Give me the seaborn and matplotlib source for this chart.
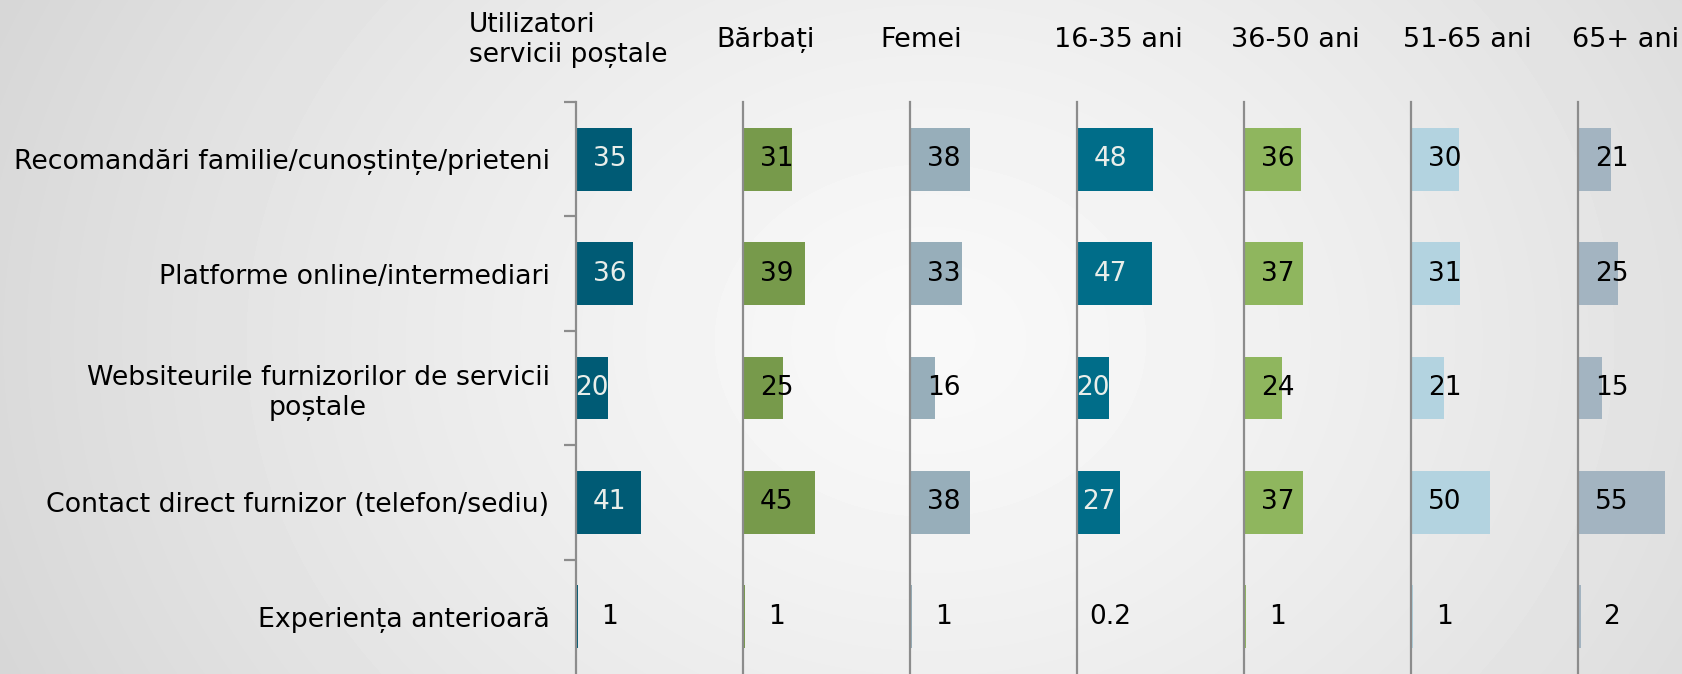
import numpy as np
import pandas as pd
import matplotlib
matplotlib.use("Agg")
import matplotlib.pyplot as plt
import seaborn as sns

# ---- data -------------------------------------------------------------
categories = [
    "Recomandări familie/cunoștințe/prieteni",
    "Platforme online/intermediari",
    "Websiteurile furnizorilor de servicii\npoștale",
    "Contact direct furnizor (telefon/sediu)",
    "Experiența anterioară",
]
groups = ["Utilizatori\nservicii poștale", "Bărbați", "Femei",
          "16-35 ani", "36-50 ani", "51-65 ani", "65+ ani"]

utilizatori = [35, 36, 20, 41, 1]
barbati = [31, 39, 25, 45, 1]
femei = [38, 33, 16, 38, 1]
ani_16_35 = [48, 47, 20, 27, 0.2]
ani_36_50 = [36, 37, 24, 37, 1]
ani_51_65 = [30, 31, 21, 50, 1]
ani_65_plus = [21, 25, 15, 55, 2]

series = [utilizatori, barbati, femei, ani_16_35, ani_36_50, ani_51_65, ani_65_plus]
colors = ["#005B75", "#779A4B", "#97AEBA", "#006D89", "#8FB65E", "#B3D3E0", "#A3B4C1"]
dark_panel = [True, False, False, True, False, False, False]

df = pd.DataFrame(
    [(g, c, v) for g, vals in zip(groups, series) for c, v in zip(categories, vals)],
    columns=["grup", "sursa", "procent"],
)

# ---- figure -----------------------------------------------------------
sns.set_theme(style="white")
plt.rcParams["font.family"] = ["DejaVu Sans"]

W, H = 1683, 674
fig = plt.figure(figsize=(W / 100, H / 100), dpi=100)

# soft radial background
bg = fig.add_axes([0, 0, 1, 1], zorder=-10)
yy, xx = np.mgrid[0:H, 0:W]
r = np.sqrt(((xx - 930) / 930.0) ** 2 + ((yy - 340) / 760.0) ** 2)
shade = np.clip(0.975 - 0.12 * r ** 1.3, 0.80, 1.0)
bg.imshow(shade, cmap="gray", vmin=0, vmax=1, aspect="auto",
          extent=[0, 1, 0, 1], interpolation="bilinear")
bg.set_axis_off()

px_per_unit = 1.59
top_px = 102
axis_w_px = 100
first_left = 576
step = 167
spine_col = "#8C8C8C"
label_fs = 19

for i, (grp, col) in enumerate(zip(groups, colors)):
    left = first_left + step * i
    ax = fig.add_axes([left / W, 0, axis_w_px / W, (H - top_px) / H])
    ax.set_facecolor("none")
    sub = df[df["grup"] == grp]
    sns.barplot(data=sub, x="procent", y="sursa", order=categories, color=col,
                saturation=1, width=0.55, orient="h", linewidth=0, ax=ax)
    ax.set_xlim(0, axis_w_px / px_per_unit)
    ax.set_ylim(len(categories) - 0.5, -0.5)
    ax.set_xlabel("")
    ax.set_ylabel("")
    ax.set_xticks([])
    for s in ["top", "right", "bottom"]:
        ax.spines[s].set_visible(False)
    ax.spines["left"].set_color(spine_col)
    ax.spines["left"].set_linewidth(1.6)

    if i == 0:
        ax.set_yticks(range(len(categories)))
        ax.set_yticklabels(categories, fontsize=19.3, color="black",
                           multialignment="center")
        ax.tick_params(axis="y", which="major", length=0, pad=19)
        ax.set_yticks(np.arange(-0.5, len(categories) - 1, 1.0), minor=True)
        ax.tick_params(axis="y", which="minor", length=9, width=1.6,
                       color=spine_col, left=True)
    else:
        ax.set_yticks([])

    # value labels
    for j, v in enumerate(series[i]):
        txt = f"{v:g}"
        x = 21
        color = "black"
        if dark_panel[i] and v >= 10:
            color = "#E9EEEA"
            if v < 31:
                x = v / 2
        ax.text(x, j, txt, ha="center", va="center", fontsize=label_fs,
                color=color, clip_on=False)

# column headers
fig.text(469 / W, 1 - 40 / H, groups[0], ha="left", va="center",
         fontsize=19, color="black", linespacing=1.2)
header_x = [766, 921, 1118, 1295, 1467, 1626]
for grp, hx in zip(groups[1:], header_x):
    fig.text(hx / W, 1 - 40 / H, grp, ha="center", va="center",
             fontsize=19.5, color="black")

fig.savefig("out.png", dpi=100)
